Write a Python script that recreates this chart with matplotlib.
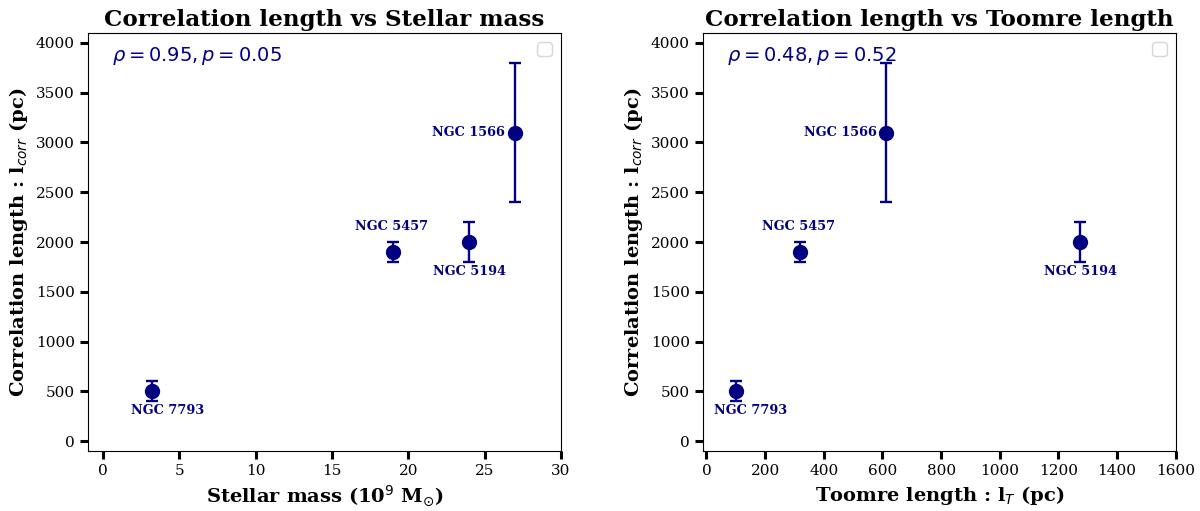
import matplotlib
matplotlib.use("Agg")
import matplotlib.pyplot as plt

plt.rcParams['font.family'] = 'DejaVu Serif'
plt.rcParams['mathtext.fontset'] = 'dejavusans'

# data
names = ["NGC 7793", "NGC 5457", "NGC 5194", "NGC 1566"]
stellar_mass = [3.2, 19.0, 24.0, 27.0]         # 1e9 Msun
toomre_length = [100, 320, 1274, 613]          # pc
corr_length = [500, 1900, 2000, 3100]          # pc
corr_err = [100, 100, 200, 700]

rho_mass, p_mass = 0.95, 0.05
rho_toomre, p_toomre = 0.48, 0.52

# label offsets (points) per galaxy
offs = {"NGC 7793": (11, -14, "center"), "NGC 5457": (-1, 18, "center"),
        "NGC 5194": (0, -21, "center"), "NGC 1566": (-7, 0, "right")}

fig = plt.figure(figsize=(12, 5.11), dpi=100)
ax1 = fig.add_axes([0.0733, 0.1174, 0.394, 0.818])
ax2 = fig.add_axes([0.5858, 0.1174, 0.394, 0.818])


def panel(ax, x, rho, p, title, xlabel, xlim, xticks):
    ax.errorbar(x, corr_length, yerr=corr_err, fmt='o', color='navy',
                markersize=10, elinewidth=1.7, capsize=4.5, capthick=1.7)
    for n, xi, yi in zip(names, x, corr_length):
        dx, dy, ha = offs[n]
        ax.annotate(n, (xi, yi), xytext=(dx, dy), textcoords='offset points',
                    ha=ha, va='center', fontsize=9.3, fontweight='bold', color='navy')
    ax.text(0.05, 0.945, r'$\rho = %.2f, p = %.2f$' % (rho, p), transform=ax.transAxes,
            fontsize=14, color='navy', va='center')
    ax.legend(handles=[], loc='upper right', fontsize=13)
    ax.set_title(title, fontsize=16.6, fontweight='bold', pad=5)
    ax.set_xlabel(xlabel, fontsize=14, fontweight='bold')
    ax.set_ylabel(r'Correlation length : l$_{corr}$ (pc)', fontsize=14, fontweight='bold')
    ax.set_xlim(*xlim)
    ax.set_xticks(xticks)
    ax.set_ylim(-100, 4100)
    ax.set_yticks(range(0, 4001, 500))
    ax.tick_params(width=2.2, length=6, labelsize=11)


panel(ax1, stellar_mass, rho_mass, p_mass,
      'Correlation length vs Stellar mass', r'Stellar mass (10$^9$ M$_{\odot}$)',
      (-1, 30), range(0, 31, 5))
panel(ax2, toomre_length, rho_toomre, p_toomre,
      'Correlation length vs Toomre length', r'Toomre length : l$_T$ (pc)',
      (-12, 1600), range(0, 1601, 200))

fig.savefig("out.png", dpi=100)
